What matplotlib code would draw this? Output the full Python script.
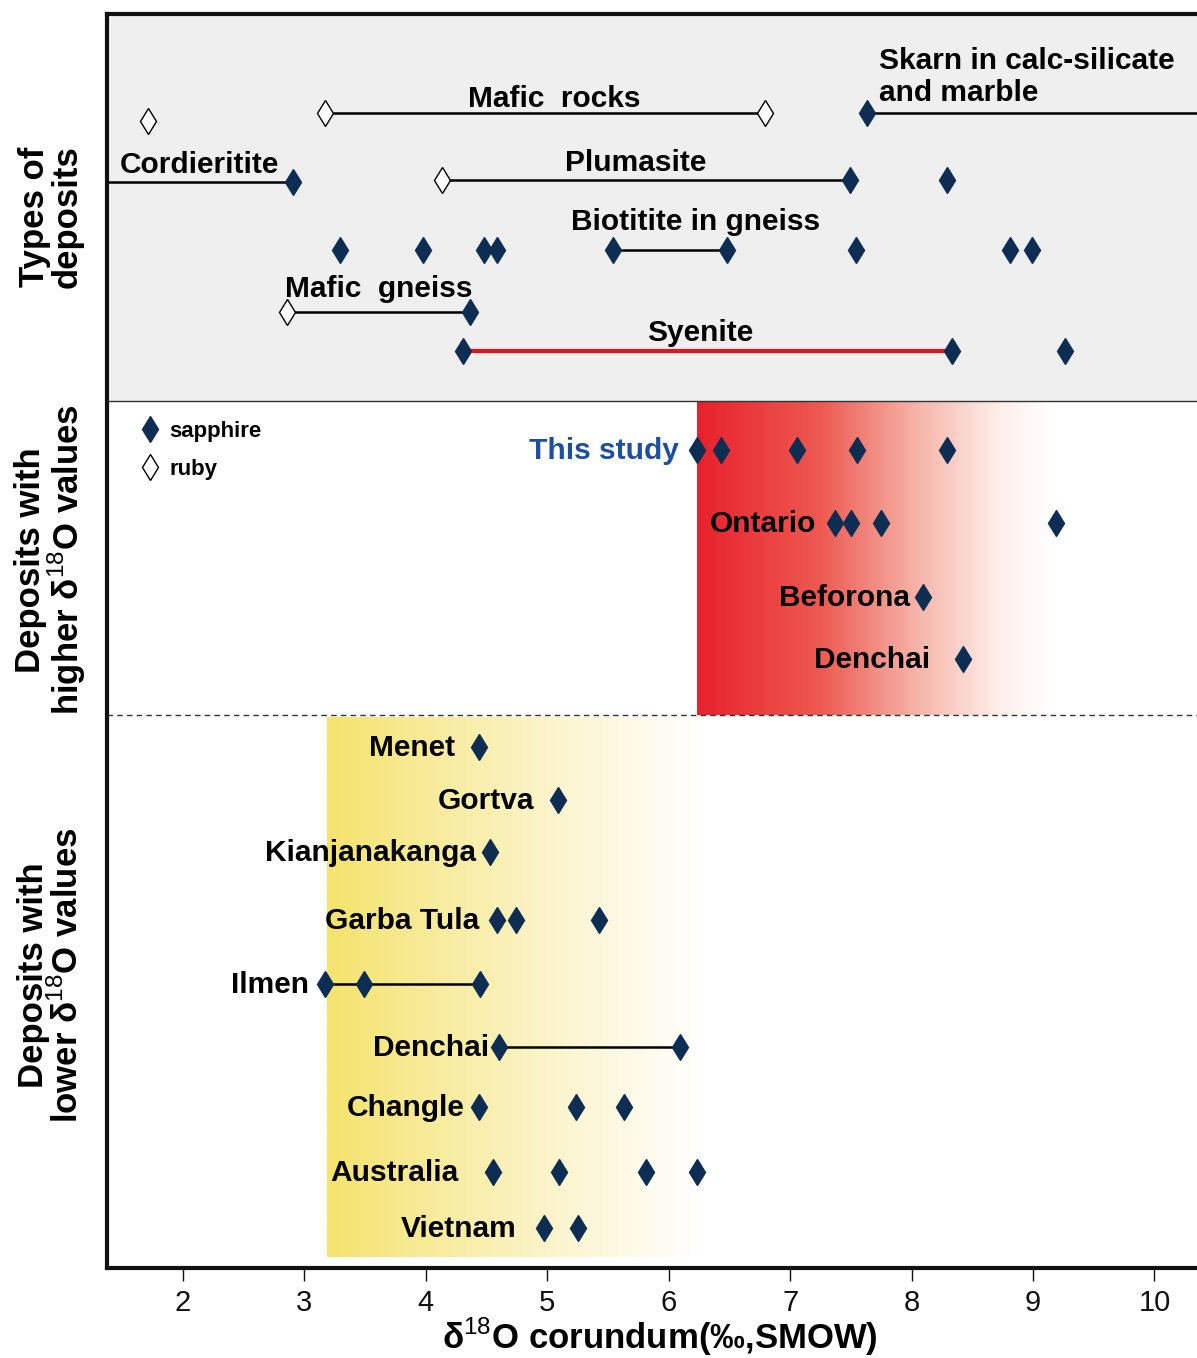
import numpy as np
import matplotlib
matplotlib.use("Agg")
import matplotlib.pyplot as plt
from matplotlib.colors import LinearSegmentedColormap

# --- data: delta18O of corundum (permil, SMOW) ---
# types of deposits (top panel)
ruby_single = [1.71]
mafic_rocks_ruby = [3.17, 6.79]
skarn_sapphire = [7.63]
cordieritite_sapphire = [2.91]
plumasite_ruby = [4.13]
plumasite_sapphire = [7.49, 8.29]
biotitite_sapphire = [3.29, 3.98, 4.48, 4.59, 5.54, 6.48, 7.54, 8.81, 8.99]
biotitite_range = [5.54, 6.48]
mafic_gneiss_ruby = [2.86]
mafic_gneiss_sapphire = [4.36]
syenite_sapphire = [4.31, 8.33, 9.26]
syenite_range = [4.31, 8.33]

# deposits with higher values
high_names = ["This study", "Ontario", "Beforona", "Denchai"]
high_values = [
    [6.23, 6.43, 7.06, 7.55, 8.29],
    [7.37, 7.50, 7.75, 9.19],
    [8.09],
    [8.42],
]

# deposits with lower values
low_names = ["Menet", "Gortva", "Kianjanakanga", "Garba Tula", "Ilmen",
             "Denchai", "Changle", "Australia", "Vietnam"]
low_values = [
    [4.44],
    [5.09],
    [4.53],
    [4.59, 4.74, 5.43],
    [3.17, 3.49, 4.45],
    [4.60, 6.09],
    [4.44, 5.24, 5.63],
    [4.55, 5.10, 5.81, 6.23],
    [4.97, 5.25],
]
low_ranges = {"Ilmen": [3.17, 4.45], "Denchai": [4.60, 6.09]}

high_band = [6.23, 9.15]
low_band = [3.19, 6.3]
xticks = [2, 3, 4, 5, 6, 7, 8, 9, 10]

# --- layout (rows measured top-down) ---
Y_TOP, Y_BOT = 14, 1268
Y_SPLIT1, Y_SPLIT2 = 401, 715
high_rows = [450, 523, 597, 659]
high_label_x = [6.08, 7.21, 7.99, 8.15]
low_rows = [747, 800, 852, 920, 984, 1047, 1107, 1172, 1228]
low_label_gap = [0.20, 0.20, 0.12, 0.15, 0.13, 0.08, 0.12, 0.28, 0.22]

NAVY = "#0e2d52"
family = "Liberation Sans"
plt.rcParams["font.family"] = [family, "DejaVu Sans"]
plt.rcParams["mathtext.fontset"] = "custom"
plt.rcParams["mathtext.rm"] = family
plt.rcParams["mathtext.bf"] = family + ":bold"

fig = plt.figure(figsize=(11.97, 13.58), dpi=100)
ax = fig.add_axes([107 / 1197, 1 - Y_BOT / 1358, 1 - 107 / 1197, (Y_BOT - Y_TOP) / 1358])
xmin, xmax = 1.375, 10.35

MS = 13.2
TXT = 21.5


def sapph(xs, y):
    ax.plot(xs, [y] * len(xs), ls="none", marker="d", ms=MS, color=NAVY,
            mec=NAVY, zorder=5)


def ruby(xs, y):
    ax.plot(xs, [y] * len(xs), ls="none", marker="d", ms=MS, mfc="white",
            mec="black", mew=1.0, zorder=5)


def seg(x0, x1, y, color="black", lw=1.8):
    ax.plot([x0, x1], [y, y], color=color, lw=lw, zorder=3, solid_capstyle="butt")


def label(x, y, s, ha="center", color="black", size=TXT):
    ax.text(x, y, s, ha=ha, va="baseline", fontsize=size, fontweight="bold",
            color=color, zorder=6)


# background panels
ax.axhspan(Y_TOP, Y_SPLIT1, color="#efefef", zorder=0, lw=0)
ax.axhline(Y_SPLIT1, color="#333333", lw=1.0, zorder=2)
ax.axhline(Y_SPLIT2, color="#333333", lw=1.0, ls=(0, (4, 3)), zorder=2)

red_cmap = LinearSegmentedColormap.from_list(
    "r", [(0, "#e8212c"), (0.35, "#ee5a52"), (0.62, "#f6b4a8"), (0.85, "#fdeee9"), (1, "#ffffff")])
yel_cmap = LinearSegmentedColormap.from_list(
    "y", [(0, "#f4e36c"), (0.3, "#f8ec9f"), (0.65, "#fcf6d3"), (1, "#ffffff")])
grad = np.linspace(0, 1, 256).reshape(1, -1)
ax.imshow(grad, cmap=red_cmap, aspect="auto", zorder=1,
          extent=[high_band[0], high_band[1], Y_SPLIT2, Y_SPLIT1 + 1])
ax.imshow(grad, cmap=yel_cmap, aspect="auto", zorder=1,
          extent=[low_band[0], low_band[1], 1257, Y_SPLIT2 + 2])
ax.set_xlim(xmin, xmax)
ax.set_ylim(Y_BOT, Y_TOP)

# --- types of deposits ---
ruby(ruby_single, 121)

seg(mafic_rocks_ruby[0], mafic_rocks_ruby[1], 113)
ruby(mafic_rocks_ruby, 113)
label(5.06, 107, "Mafic  rocks")

seg(skarn_sapphire[0], xmax, 113)
sapph(skarn_sapphire, 113)
label(7.73, 69, "Skarn in calc-silicate", ha="left")
label(7.73, 101, "and marble", ha="left")

seg(xmin, cordieritite_sapphire[0], 182)
sapph(cordieritite_sapphire, 182)
label(1.48, 173, "Cordieritite", ha="left")

seg(plumasite_ruby[0], plumasite_sapphire[0], 180)
ruby(plumasite_ruby, 180)
sapph(plumasite_sapphire, 180)
label(5.73, 171, "Plumasite")

seg(biotitite_range[0], biotitite_range[1], 250)
sapph(biotitite_sapphire, 250)
label(6.22, 230, "Biotitite in gneiss")

seg(mafic_gneiss_ruby[0], mafic_gneiss_sapphire[0], 312)
ruby(mafic_gneiss_ruby, 312)
sapph(mafic_gneiss_sapphire, 312)
label(2.84, 297, "Mafic  gneiss", ha="left")

seg(syenite_range[0], syenite_range[1], 351, color="#e3141d", lw=3.0)
sapph(syenite_sapphire, 351)
label(6.26, 341, "Syenite")

# legend
sapph([1.73], 429)
ruby([1.73], 467)
label(1.89, 437, "sapphire", ha="left", size=16)
label(1.89, 475, "ruby", ha="left", size=16)

# --- higher values ---
for name, vals, y, lx in zip(high_names, high_values, high_rows, high_label_x):
    sapph(vals, y)
    label(lx, y + 9, name, ha="right", color="#1c4fa0" if name == "This study" else "black")

# --- lower values ---
for name, vals, y, gap in zip(low_names, low_values, low_rows, low_label_gap):
    if name in low_ranges:
        r = low_ranges[name]
        seg(r[0], r[1], y)
    sapph(vals, y)
    label(vals[0] - gap, y + 9, name, ha="right")

# axes styling
for side in ["left", "bottom", "top"]:
    ax.spines[side].set_linewidth(3)
    ax.spines[side].set_color("#111111")
ax.spines["right"].set_visible(False)
ax.set_yticks([])
ax.set_xticks(xticks)
ax.set_xticklabels([str(t) for t in xticks], fontsize=21)
ax.tick_params(axis="x", direction="out", length=9, width=1.0, pad=6, colors="#111111")
ax.set_xlabel(r"$\mathbf{\delta}^{18}$O corundum(‰,SMOW)", fontsize=25, fontweight="bold")
ax.xaxis.set_label_coords(0.507, -0.038)

# left section titles
def side_title(y, text):
    fig.text(51 / 1197, 1 - y / 1358, text, rotation=90, ha="center", va="center",
             fontsize=25, fontweight="bold", linespacing=0.98)

side_title(217, "Types of\ndeposits")
side_title(560, "Deposits with\nhigher $\\mathbf{\\delta}^{18}$O values")
side_title(975, "Deposits with\nlower $\\mathbf{\\delta}^{18}$O values")

fig.savefig("out.png", dpi=100)
